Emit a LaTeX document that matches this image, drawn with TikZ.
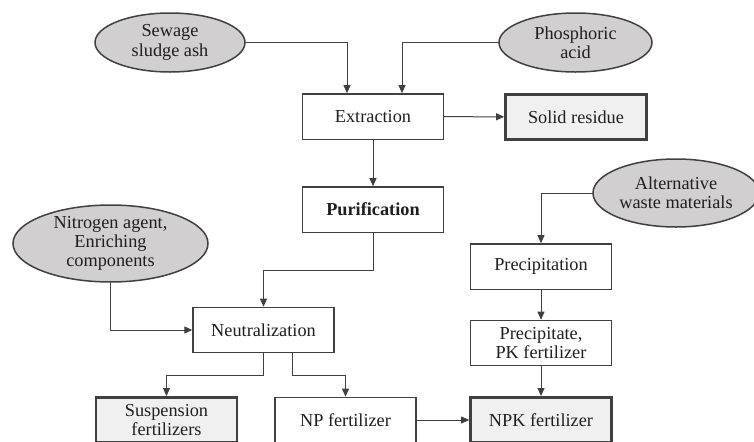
\documentclass[tikz,border=0pt]{standalone}
\usepackage{fontspec}
\setmainfont{Liberation Serif}
\usetikzlibrary{arrows.meta, calc, shapes.geometric}
\definecolor{flowLine}{rgb}{0.25, 0.25, 0.25}
\definecolor{flowText}{rgb}{0.12, 0.12, 0.12}
\definecolor{inputGray}{rgb}{0.82, 0.81, 0.81}
\definecolor{outputGray}{rgb}{0.94, 0.94, 0.94}

\begin{document}
\begin{tikzpicture}[x = 0.03cm, y = -0.03cm, style={line cap = round},
  every node/.style={text=flowText, font=\fontsize{15.6}{16.4}\selectfont, align=center, inner sep=0pt},
  procbox/.style={draw=flowLine, line width=0.04cm, fill=white, minimum width=4.23cm, minimum height=1.36cm},
  outbox/.style={procbox, line width=0.08cm, fill=outputGray},
  feed/.style={ellipse, draw=flowLine, line width=0.045cm, fill=inputGray},
  flow/.style={draw=flowLine, line width=0.03cm, -{Triangle[length=0.24cm, width=0.21cm]}}]

  \clip (0, 0) rectangle (754, 441);

  % raw materials
  \node [feed, minimum width=4.5cm, minimum height=1.77cm] (sewage) at (170, 42.5) {Sewage\\sludge ash};
  \node [feed, minimum width=4.59cm, minimum height=1.77cm] (phos) at (575.5, 42.5) {Phosphoric\\acid};
  \node [feed, minimum width=4.98cm, minimum height=2.04cm] (alt) at (676, 193) {Alternative\\waste materials};
  \node [feed, minimum width=5.85cm, minimum height=2.19cm] (nitro) at (110.5, 243.5) {Nitrogen agent,\\Enriching\\components};

  % process steps
  \node [procbox] (extract) at (373, 116.5) {Extraction};
  \node [outbox] (residue) at (576, 117) {Solid residue};
  \node [procbox] (purif) at (373, 209.5) {\textbf{Purification}};
  \node [procbox] (neutral) at (263.5, 330) {Neutralization};
  \node [procbox] (precip) at (541, 266.5) {Precipitation};
  \node [procbox] (pk) at (541, 343) {Precipitate,\\PK fertilizer};

  % products
  \node [outbox] (susp) at (166.5, 420) {Suspension\\fertilizers};
  \node [procbox] (np) at (345.5, 420) {NP fertilizer};
  \node [outbox] (npk) at (541, 420) {NPK fertilizer};

  % connectors
  \draw [flow] (sewage.east) -| ([xshift=-0.78cm]extract.north);
  \draw [flow] (phos.west) -| ([xshift=0.87cm]extract.north);
  \draw [flow] (extract) -- (residue);
  \draw [flow] (extract) -- (purif);
  \draw [flow] (purif.south) -- ++(0, 38) -| (neutral.north);
  \draw [flow] (nitro.south) |- (neutral.west);
  \draw [flow] (alt.west) -| (precip.north);
  \draw [flow] (precip) -- (pk);
  \draw [flow] (pk) -- (npk);
  \draw [flow] (neutral.south) -- ++(0, 22) -| (susp.north);
  \draw [flow] ([xshift=0.855cm]neutral.south) -- ++(0, 22) -| (np.north);
  \draw [flow] (np) -- (npk);

\end{tikzpicture}
\end{document}
